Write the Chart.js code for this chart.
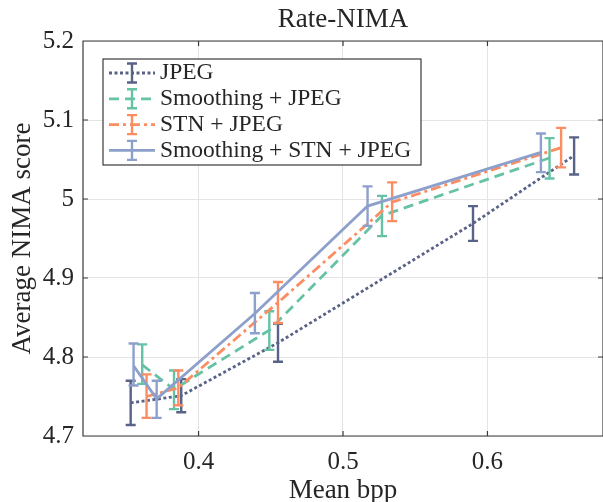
<!DOCTYPE html>
<html>
<head>
<meta charset="utf-8">
<script src="https://cdn.jsdelivr.net/npm/chart.js@4.4.1/dist/chart.umd.min.js"></script>
<style>
  html, body { margin: 0; padding: 0; background: #fff; }
</style>
</head>
<body>
<canvas id="chart" width="603" height="502"></canvas>
<script>
// Data: mean bpp, average NIMA score, error bar low / high
const seriesNames = ['JPEG', 'Smoothing + JPEG', 'STN + JPEG', 'Smoothing + STN + JPEG'];

const jpegBpp   = [0.353, 0.388, 0.455, 0.590, 0.660];
const jpegScore = [4.742, 4.751, 4.818, 4.969, 5.055];
const jpegLow   = [4.714, 4.730, 4.794, 4.947, 5.031];
const jpegHigh  = [4.770, 4.772, 4.842, 4.991, 5.078];

const smoothBpp   = [0.361, 0.383, 0.449, 0.527, 0.643];
const smoothScore = [4.790, 4.759, 4.834, 4.979, 5.052];
const smoothLow   = [4.766, 4.734, 4.809, 4.953, 5.026];
const smoothHigh  = [4.816, 4.783, 4.858, 5.004, 5.077];

const stnBpp   = [0.364, 0.386, 0.455, 0.534, 0.651];
const stnScore = [4.750, 4.761, 4.869, 4.996, 5.065];
const stnLow   = [4.723, 4.739, 4.843, 4.972, 5.040];
const stnHigh  = [4.778, 4.783, 4.895, 5.021, 5.090];

const bothBpp   = [0.355, 0.371, 0.439, 0.517, 0.637];
const bothScore = [4.789, 4.747, 4.855, 4.991, 5.059];
const bothLow   = [4.764, 4.723, 4.830, 4.966, 5.034];
const bothHigh  = [4.817, 4.770, 4.881, 5.016, 5.083];

const xTicks = [0.4, 0.5, 0.6];
const xTickLabels = ['0.4', '0.5', '0.6'];
const yTicks = [4.7, 4.8, 4.9, 5, 5.1, 5.2];
const yTickLabels = ['4.7', '4.8', '4.9', '5', '5.1', '5.2'];

const FONT = "'Liberation Serif', 'Times New Roman', serif";
const INK = '#262626';

function points(xs, ys, lo, hi) {
    return xs.map((x, i) => ({ x: x, y: ys[i], lo: lo[i], hi: hi[i] }));
}

const styles = [
    { color: '#596287', dash: [3, 2.5] },       // dotted
    { color: '#66c2a5', dash: [10, 6] },        // dashed
    { color: '#fc8d62', dash: [10, 4, 3, 4] },  // dash-dot
    { color: '#8da0cb', dash: [] }              // solid
];

const seriesData = [
    points(jpegBpp, jpegScore, jpegLow, jpegHigh),
    points(smoothBpp, smoothScore, smoothLow, smoothHigh),
    points(stnBpp, stnScore, stnLow, stnHigh),
    points(bothBpp, bothScore, bothLow, bothHigh)
];

// draw error bars right after each line, so later series sit on top
const errorBars = {
    id: 'errorBars',
    afterDatasetDraw(chart, args) {
        const ds = chart.data.datasets[args.index];
        const xs = chart.scales.x, ys = chart.scales.y;
        const ctx = chart.ctx;
        ctx.save();
        ctx.strokeStyle = ds.borderColor;
        ctx.lineWidth = 2.4;
        ctx.setLineDash([]);
        ds.data.forEach(p => {
            const px = xs.getPixelForValue(p.x);
            const top = ys.getPixelForValue(p.hi);
            const bot = ys.getPixelForValue(p.lo);
            ctx.beginPath();
            ctx.moveTo(px, top); ctx.lineTo(px, bot);
            ctx.moveTo(px - 5, top); ctx.lineTo(px + 5, top);
            ctx.moveTo(px - 5, bot); ctx.lineTo(px + 5, bot);
            ctx.stroke();
        });
        ctx.restore();
    }
};

// axes box, inward ticks, title and legend (MATLAB look)
const frame = {
    id: 'frame',
    afterDraw(chart) {
        const ctx = chart.ctx;
        const a = chart.chartArea;
        const xs = chart.scales.x, ys = chart.scales.y;
        ctx.save();
        ctx.strokeStyle = '#3a3a3a';
        ctx.lineWidth = 1.2;
        ctx.beginPath();
        ctx.rect(a.left, a.top, a.right - a.left, a.bottom - a.top);
        xTicks.forEach(v => {
            const px = xs.getPixelForValue(v);
            ctx.moveTo(px, a.bottom); ctx.lineTo(px, a.bottom - 5);
            ctx.moveTo(px, a.top); ctx.lineTo(px, a.top + 5);
        });
        yTicks.forEach(v => {
            const py = ys.getPixelForValue(v);
            ctx.moveTo(a.left, py); ctx.lineTo(a.left + 5, py);
            ctx.moveTo(a.right, py); ctx.lineTo(a.right - 5, py);
        });
        ctx.stroke();

        // title
        ctx.fillStyle = INK;
        ctx.font = '27px ' + FONT;
        ctx.textAlign = 'center';
        ctx.textBaseline = 'alphabetic';
        ctx.fillText('Rate-NIMA', (a.left + a.right) / 2, 27);

        // legend
        const lx = a.left + 20, ly = a.top + 18, lw = 318, lh = 106;
        ctx.fillStyle = '#fff';
        ctx.fillRect(lx, ly, lw, lh);
        ctx.strokeStyle = '#3a3a3a';
        ctx.lineWidth = 1.2;
        ctx.strokeRect(lx, ly, lw, lh);
        ctx.font = '23.5px ' + FONT;
        ctx.textAlign = 'left';
        ctx.textBaseline = 'middle';
        chart.data.datasets.forEach((ds, i) => {
            const ry = ly + 14 + i * 25.8;
            const cx = lx + 29;
            ctx.strokeStyle = ds.borderColor;
            ctx.lineWidth = ds.borderWidth;
            ctx.setLineDash(ds.borderDash);
            ctx.beginPath();
            ctx.moveTo(lx + 6, ry); ctx.lineTo(lx + 52, ry);
            ctx.stroke();
            ctx.setLineDash([]);
            ctx.lineWidth = 2.4;
            ctx.beginPath();
            ctx.moveTo(cx, ry - 9.5); ctx.lineTo(cx, ry + 9.5);
            ctx.moveTo(cx - 5, ry - 9.5); ctx.lineTo(cx + 5, ry - 9.5);
            ctx.moveTo(cx - 5, ry + 9.5); ctx.lineTo(cx + 5, ry + 9.5);
            ctx.stroke();
            ctx.fillStyle = INK;
            ctx.fillText(ds.label, lx + 57, ry);
        });
        ctx.restore();
    }
};

new Chart(document.getElementById('chart').getContext('2d'), {
    type: 'scatter',
    data: {
        datasets: seriesData.map((data, i) => ({
            label: seriesNames[i],
            data: data,
            showLine: true,
            borderColor: styles[i].color,
            backgroundColor: styles[i].color,
            borderDash: styles[i].dash,
            borderWidth: 2.8,
            pointRadius: 0,
            pointHoverRadius: 0,
            tension: 0,
            order: 4 - i
        }))
    },
    options: {
        responsive: false,
        animation: false,
        events: [],
        layout: { padding: { left: 0, right: 0, top: 41, bottom: 0 } },
        plugins: {
            legend: { display: false },
            tooltip: { enabled: false },
            title: { display: false }
        },
        scales: {
            x: {
                type: 'linear',
                min: 0.32,
                max: 0.68,
                afterBuildTicks: s => { s.ticks = xTicks.map(v => ({ value: v })); },
                afterFit: s => { s.height = 66; },
                grid: { color: '#e4e4e4', lineWidth: 1, drawTicks: false },
                border: { display: false },
                ticks: {
                    padding: 11,
                    color: INK,
                    font: { family: FONT, size: 25 },
                    callback: (v, i) => xTickLabels[i]
                },
                title: {
                    display: true,
                    text: 'Mean bpp',
                    color: INK,
                    font: { family: FONT, size: 27, lineHeight: 0.8 },
                    padding: 0
                }
            },
            y: {
                type: 'linear',
                min: 4.7,
                max: 5.2,
                afterBuildTicks: s => { s.ticks = yTicks.map(v => ({ value: v })); },
                afterFit: s => { s.width = 83; },
                grid: { color: '#e4e4e4', lineWidth: 1, drawTicks: false },
                border: { display: false },
                ticks: {
                    padding: 9,
                    color: INK,
                    font: { family: FONT, size: 25 },
                    callback: (v, i) => yTickLabels[i]
                },
                title: {
                    display: true,
                    text: 'Average NIMA score',
                    color: INK,
                    font: { family: FONT, size: 27, lineHeight: 0.8 },
                    padding: { top: 12, bottom: 0 }
                }
            }
        }
    },
    plugins: [errorBars, frame]
});
</script>
</body>
</html>
